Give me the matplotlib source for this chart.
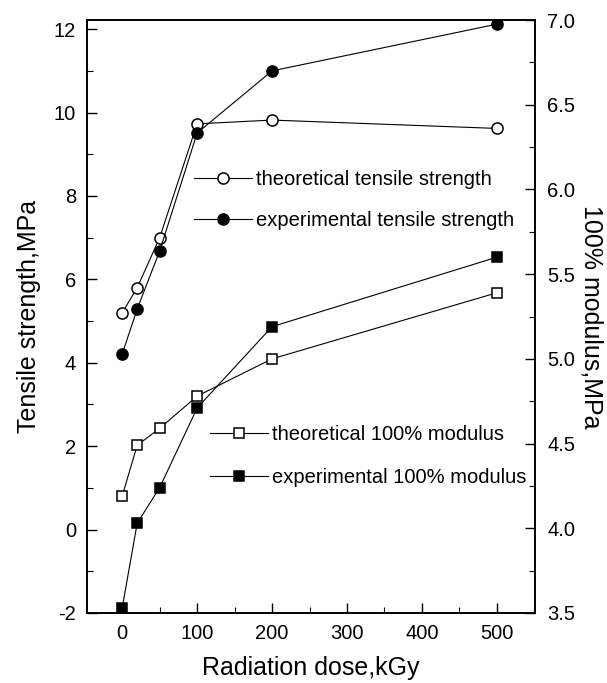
import matplotlib
matplotlib.use("Agg")
import matplotlib.pyplot as plt
from matplotlib.ticker import MultipleLocator

plt.rcParams['font.family'] = ['Liberation Sans', 'DejaVu Sans']

dose = [0, 20, 50, 100, 200, 500]
theo_tensile = [5.2, 5.8, 7.0, 9.73, 9.82, 9.62]
exp_tensile = [4.21, 5.29, 6.68, 9.51, 11.0, 12.12]
theo_modulus = [4.19, 4.49, 4.59, 4.78, 5.00, 5.39]
exp_modulus = [3.53, 4.03, 4.24, 4.71, 5.19, 5.60]

x_ticks = [0, 100, 200, 300, 400, 500]
left_ticks = [-2, 0, 2, 4, 6, 8, 10, 12]
right_ticks = [3.5, 4.0, 4.5, 5.0, 5.5, 6.0, 6.5, 7.0]

W, H = 607, 683
fig = plt.figure(figsize=(W / 100, H / 100), dpi=100)
ax = fig.add_axes([87 / W, 1 - 613 / H, (535 - 87) / W, (613 - 20) / H])
ax2 = ax.twinx()

lw = 0.8
ms = 8
mew = 1.1

l1, = ax.plot(dose, theo_tensile, '-', color='black', lw=lw, marker='o', ms=ms,
              mfc='white', mec='black', mew=mew, zorder=3)
l2, = ax.plot(dose, exp_tensile, '-', color='black', lw=lw, marker='o', ms=ms,
              mfc='black', mec='black', mew=mew, zorder=3)
l3, = ax2.plot(dose, theo_modulus, '-', color='black', lw=lw, marker='s', ms=ms - 0.5,
               mfc='white', mec='black', mew=mew, zorder=3)
l4, = ax2.plot(dose, exp_modulus, '-', color='black', lw=lw, marker='s', ms=ms - 0.5,
               mfc='black', mec='black', mew=mew, zorder=3)

ax.set_xlim(-47, 551)
ax.set_ylim(-2, 12.22)
ax2.set_ylim(3.5, 6.99)

ax.set_xticks(x_ticks)
ax.set_xticklabels([str(v) for v in x_ticks])
ax.xaxis.set_minor_locator(MultipleLocator(50))
ax.set_yticks(left_ticks)
ax.set_yticklabels([str(v) for v in left_ticks])
ax.yaxis.set_minor_locator(MultipleLocator(1))
ax2.set_yticks(right_ticks)
ax2.set_yticklabels([f"{v:.1f}" for v in right_ticks])
ax2.yaxis.set_minor_locator(MultipleLocator(0.25))

tick_fs = 14.5
ax.tick_params(axis='both', which='major', direction='in', length=7, width=1,
               labelsize=tick_fs, top=False, right=False, pad=8)
ax.tick_params(axis='both', which='minor', direction='in', length=4, width=0.8,
               top=False, right=False)
ax2.tick_params(axis='y', which='major', direction='in', length=7, width=1,
                labelsize=tick_fs, pad=9)
ax2.tick_params(axis='y', which='minor', direction='in', length=4, width=0.8)

for a in (ax, ax2):
    for s in a.spines.values():
        s.set_linewidth(1.2)

lab_fs = 18
ax.set_xlabel('Radiation dose,kGy', fontsize=lab_fs, labelpad=9)
ax.set_ylabel('Tensile strength,MPa', fontsize=lab_fs, labelpad=9)
ax2.set_ylabel('100% modulus,MPa', fontsize=lab_fs, rotation=270, labelpad=20)

leg_fs = 14.5
leg1 = fig.legend([l1, l2], ['theoretical tensile strength', 'experimental tensile strength'],
                  loc='center left', bbox_to_anchor=(194 / W, 1 - 200 / H),
                  frameon=False, fontsize=leg_fs, handlelength=2.9, handletextpad=0.2,
                  labelspacing=1.05, borderpad=0, borderaxespad=0)
leg2 = fig.legend([l3, l4], ['theoretical 100% modulus', 'experimental 100% modulus'],
                  loc='center left', bbox_to_anchor=(210 / W, 1 - 456 / H),
                  frameon=False, fontsize=leg_fs, handlelength=2.9, handletextpad=0.2,
                  labelspacing=1.2, borderpad=0, borderaxespad=0)

fig.savefig('out.png', dpi=100)
